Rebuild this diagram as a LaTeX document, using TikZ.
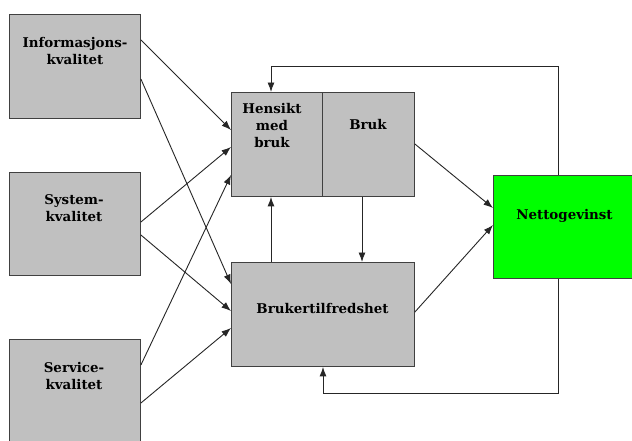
\documentclass[tikz,border=0pt]{standalone}
\usepackage{fontspec}
\setmainfont{DejaVu Serif}
\usetikzlibrary{arrows.meta}
\definecolor{boxgray}{HTML}{C0C0C0}
\definecolor{netgreen}{HTML}{00FF00}
\definecolor{edge}{HTML}{404040}
\begin{document}
\begin{tikzpicture}[x=1pt,y=-1pt,
  box/.style={draw=edge, line width=0.9pt, fill=boxgray, anchor=north west, inner sep=0pt},
  lbl/.style={font=\fontsize{13.4}{17}\selectfont\bfseries, align=center, inner sep=0pt, text=black},
  arr/.style={draw=black!85, line width=0.9pt, -{Latex[length=9.5pt,width=7pt]}}]
\useasboundingbox (0,0) rectangle (632,440);
\fill[white] (0,0) rectangle (632,440);
% boxes
\node[box, minimum width=131pt, minimum height=104pt] (I) at (9,14) {};
\node[box, minimum width=131pt, minimum height=103pt] (S) at (9,172) {};
\node[box, minimum width=131pt, minimum height=106pt] (V) at (9,339) {};
\node[box, minimum width=91pt, minimum height=104pt] (H) at (231,92) {};
\node[box, minimum width=92pt, minimum height=104pt] (U) at (322,92) {};
\node[box, minimum width=183pt, minimum height=104pt] (B) at (231,262) {};
\node[box, fill=netgreen, minimum width=145pt, minimum height=103pt] (N) at (493,175) {};
% labels
\node[lbl, anchor=north] (It) at (75,37) {Informasjons-\\kvalitet};
\node[lbl, anchor=north] (St) at (74,194) {System-\\kvalitet};
\node[lbl, anchor=north] (Vt) at (74,362) {Service-\\kvalitet};
\node[lbl, anchor=north] (Ht) at (272,103) {Hensikt\\med\\bruk};
\node[lbl, anchor=base] (Ut) at (368,129) {Bruk};
\node[lbl, anchor=base] (Bt) at (322.5,313) {Brukertilfredshet};
\node[lbl, anchor=base] (Nt) at (564.5,219) {Nettogevinst};
% input arrows
\draw[arr] (I.east |- 0,40) -- (H.west |- 0,130);
\draw[arr] (I.east |- 0,79) -- (B.west |- 0,284);
\draw[arr] (S.east |- 0,222) -- (H.west |- 0,147);
\draw[arr] (S.east |- 0,235) -- (B.west |- 0,311);
\draw[arr] (V.east |- 0,365) -- (H.west |- 0,175);
\draw[arr] (V.east |- 0,403) -- (B.west |- 0,328);
% middle arrows
\draw[arr] (U.south -| 362,0) -- (B.north -| 362,0);
\draw[arr] (B.north -| 271,0) -- (H.south -| 271,0);
\draw[arr] (U.east |- 0,144) -- (N.west |- 0,208);
\draw[arr] (B.east |- 0,312) -- (N.west |- 0,225);
% feedback loops
\coordinate (t1) at (558,66);
\coordinate (b1) at (558,393);
\draw[arr] (N.north -| t1) -- (t1) -| (H.north -| 271,0);
\draw[arr] (N.south -| b1) -- (b1) -| (B.south -| 323,0);
\end{tikzpicture}
\end{document}
